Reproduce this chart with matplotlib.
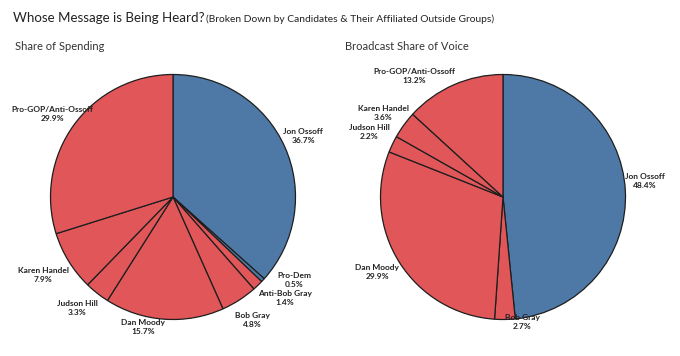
import matplotlib
matplotlib.use('Agg')
import matplotlib.pyplot as plt

plt.rcParams['font.family'] = ['Lato', 'DejaVu Sans']

# ---- data ----
spend_labels = ['Jon Ossoff', 'Pro-Dem', 'Anti-Bob Gray', 'Bob Gray', 'Dan Moody',
                'Judson Hill', 'Karen Handel', 'Pro-GOP/Anti-Ossoff']
spend_values = [36.7, 0.5, 1.4, 4.8, 15.7, 3.3, 7.9, 29.9]
spend_party = ['D', 'D', 'R', 'R', 'R', 'R', 'R', 'R']

voice_labels = ['Jon Ossoff', 'Bob Gray', 'Dan Moody', 'Judson Hill',
                'Karen Handel', 'Pro-GOP/Anti-Ossoff']
voice_values = [48.4, 2.7, 29.9, 2.2, 3.6, 13.2]
voice_party = ['D', 'R', 'R', 'R', 'R', 'R']

# ---- layout (pixel positions of label centres) ----
spend_label_px = [(303, 136), (294, 280), (285, 298), (252, 320), (143, 327),
                  (77, 308), (43, 275), (52, 114)]
voice_label_px = [(645, 181), (522, 322), (377, 272), (369, 132),
                  (383, 113), (414, 76)]

COLORS = {'D': '#4E79A7', 'R': '#E15759'}
W, H = 680, 356
R = 122.5

fig = plt.figure(figsize=(W / 100, H / 100), dpi=100)
fig.patch.set_facecolor('white')


def draw_pie(box, center, labels, values, party, label_px):
    x0, y0, x1, y1 = box
    cx, cy = center
    ax = fig.add_axes([x0 / W, 1 - y1 / H, (x1 - x0) / W, (y1 - y0) / H])
    ax.pie(values, colors=[COLORS[p] for p in party], startangle=90,
           counterclock=False, radius=1,
           wedgeprops=dict(edgecolor='#1e1e1e', linewidth=0.9))
    ax.set_aspect('auto')
    ax.set_xlim((x0 - cx) / R, (x1 - cx) / R)
    ax.set_ylim((cy - y1) / R, (cy - y0) / R)
    ax.axis('off')
    for name, v, (px, py) in zip(labels, values, label_px):
        ax.text((px - cx) / R, (cy - py) / R, f"{name}\n{v}%", ha='center',
                va='center', fontsize=6, fontweight='bold', color='#222222',
                linespacing=1.35)
    return ax


draw_pie((0, 60, 340, 356), (173, 197), spend_labels, spend_values,
         spend_party, spend_label_px)
draw_pie((340, 60, 680, 356), (503, 197), voice_labels, voice_values,
         voice_party, voice_label_px)

fig.text(13 / W, 1 - 18 / H, 'Whose Message is Being Heard?', fontsize=9.6,
         color='#222222', va='center', ha='left')
fig.text(206 / W, 1 - 19 / H,
         '(Broken Down by Candidates & Their Affiliated Outside Groups)',
         fontsize=7.4, color='#222222', va='center', ha='left')
fig.text(15 / W, 1 - 47 / H, 'Share of Spending', fontsize=8,
         color='#333333', va='center', ha='left')
fig.text(345 / W, 1 - 47 / H, 'Broadcast Share of Voice', fontsize=8,
         color='#333333', va='center', ha='left')

fig.savefig('out.png', dpi=100, facecolor='white')
